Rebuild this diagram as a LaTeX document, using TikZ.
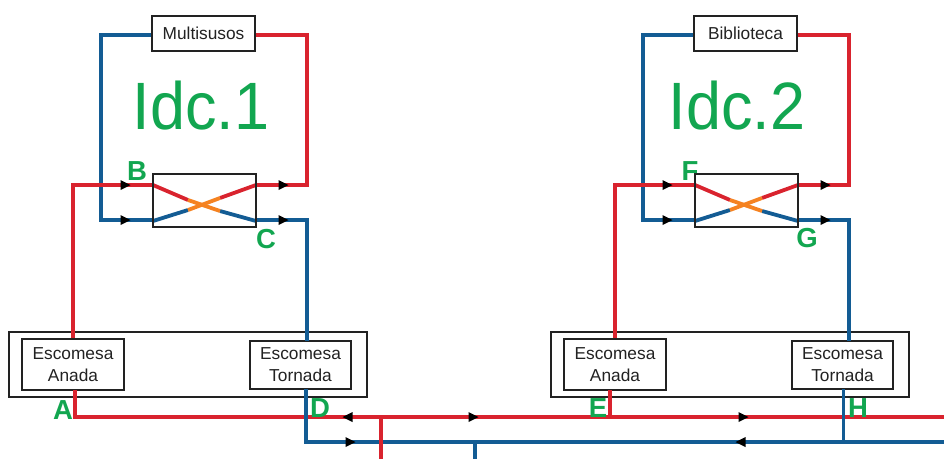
\documentclass[tikz,border=0pt]{standalone}
\usepackage{fontspec}
\setmainfont{Liberation Sans}
\definecolor{pipered}{HTML}{D9232E}
\definecolor{pipeblue}{HTML}{135C94}
\definecolor{pipeorange}{HTML}{F58220}
\definecolor{labgreen}{HTML}{12A650}
\definecolor{ink}{HTML}{222222}
\tikzset{
  box/.style={draw=ink,line width=1.1pt,fill=white,inner sep=0pt,anchor=center,text=ink,align=center,font=\fontsize{17.3}{22}\selectfont},
  frame/.style={draw=ink,line width=1.1pt,inner sep=0pt,anchor=center},
  hotpipe/.style={draw=pipered,line width=3.8pt,line join=miter},
  coldpipe/.style={draw=pipeblue,line width=3.8pt,line join=miter},
  hotthin/.style={draw=pipered,line width=3.2pt,line join=miter},
  coldthin/.style={draw=pipeblue,line width=3pt,line join=miter},
  xhot/.style={draw=pipered,line width=3.8pt},
  xcold/.style={draw=pipeblue,line width=3.8pt},
  xmix/.style={draw=pipeorange,line width=3.8pt},
  letter/.style={text=labgreen,font=\fontsize{27.5}{27.5}\selectfont\bfseries,inner sep=0pt},
  bigname/.style={text=labgreen,font=\fontsize{67}{67}\selectfont,inner sep=0pt,xscale=0.94}
}
\newcommand{\tipR}[2]{\fill[black] (#1-4.5,#2-5) -- (#1+5.5,#2) -- (#1-4.5,#2+5) -- cycle;}
\newcommand{\tipL}[2]{\fill[black] (#1+4.5,#2-5) -- (#1-5.5,#2) -- (#1+4.5,#2+5) -- cycle;}
\begin{document}
\begin{tikzpicture}[x=1pt,y=-1pt]
\useasboundingbox (0,0) rectangle (944,459);
% main pipes
\coordinate (rE) at (944,417);
\coordinate (bE) at (944,442);
\coordinate (rS) at (381,459);
\coordinate (bS) at (475,459);
\coordinate (rT) at (381,417);
\coordinate (bT) at (475,442);
% boxes (positions)
\node[frame,minimum width=358pt,minimum height=65pt] (outerA) at (188,364.5) {};
\node[frame,minimum width=358pt,minimum height=65pt] (outerB) at (730,364.5) {};
\node[box,minimum width=102pt,minimum height=51pt] (anA) at (73,364.5) {Escomesa\\Anada};
\node[box,minimum width=101pt,minimum height=48pt] (toA) at (300.5,365) {Escomesa\\Tornada};
\node[box,minimum width=102pt,minimum height=51pt] (anB) at (615,364.5) {Escomesa\\Anada};
\node[box,minimum width=101pt,minimum height=48pt] (toB) at (842.5,365) {Escomesa\\Tornada};
\node[box,minimum width=103pt,minimum height=35pt] (mu) at (203.5,33.5) {Multisusos};
\node[box,minimum width=103pt,minimum height=35pt] (bi) at (745.5,33.5) {Biblioteca};
\node[frame,minimum width=103pt,minimum height=53pt] (hxA) at (204.5,200.5) {};
\node[frame,minimum width=103pt,minimum height=53pt] (hxB) at (746.5,200.5) {};
% unit 1 pipes
\draw[coldpipe] (mu.west |- 0,35) -- (101,35) -- (101,220) -- (153,220);
\draw[hotpipe] (mu.east |- 0,35) -- (307,35) -- (307,185) -- (256,185);
\draw[hotpipe] (anA.north) -- (73,185) -- (153,185);
\draw[coldpipe] (256,220) -- (307,220) -- (307,341);
\draw[hotpipe] (75,390) -- (75,417) -- (rE);
\draw[coldpipe] (306,389) -- (306,442) -- (bE);
\draw[hotpipe] (rT) -- (rS);
\draw[coldpipe] (bT) -- (bS);
% unit 2 pipes
\draw[coldpipe] (bi.west |- 0,35) -- (643,35) -- (643,220) -- (695,220);
\draw[hotpipe] (bi.east |- 0,35) -- (849,35) -- (849,185) -- (798,185);
\draw[hotthin] (anB.north) -- (615,185) -- (695,185);
\draw[coldpipe] (798,220) -- (849,220) -- (849,341);
\draw[hotpipe] (610,390) -- (610,417);
\draw[coldthin] (843,389) -- (843,442);
% exchanger crossings
\foreach \dx in {0,542}{
  \begin{scope}[xshift=\dx pt]
    \draw[xhot] (153,185) -- (188,200);
    \draw[xcold] (220,211) -- (256,221);
    \draw[xcold] (153,221) -- (188,210);
    \draw[xhot] (220,198) -- (256,185);
    \draw[xmix] (188,200) -- (220,211);
    \draw[xmix] (188,210) -- (220,198);
  \end{scope}
}
% redraw frames above pipe ends
\node[frame,minimum width=103pt,minimum height=53pt] at (hxA) {};
\node[frame,minimum width=103pt,minimum height=53pt] at (hxB) {};
% arrowheads
\tipR{125}{185}\tipR{125}{220}\tipR{283}{185}\tipR{283}{220}
\tipR{667}{185}\tipR{667}{220}\tipR{825}{185}\tipR{825}{220}
\tipL{348}{417}\tipR{350}{442}\tipR{473}{417}\tipR{743}{417}\tipL{741}{442}
% labels
\node[bigname] (t1) at (201,106) {Idc.1};
\node[bigname] (t2) at (737,106) {Idc.2};
\node[letter] (lB) at (137,171) {B};
\node[letter] (lC) at (266,239) {C};
\node[letter] (lA) at (63,410) {A};
\node[letter] (lD) at (320,408) {D};
\node[letter] (lF) at (690,171) {F};
\node[letter] (lG) at (807,238) {G};
\node[letter] (lE) at (598,408) {E};
\node[letter] (lH) at (858,408) {H};
\end{tikzpicture}
\end{document}
